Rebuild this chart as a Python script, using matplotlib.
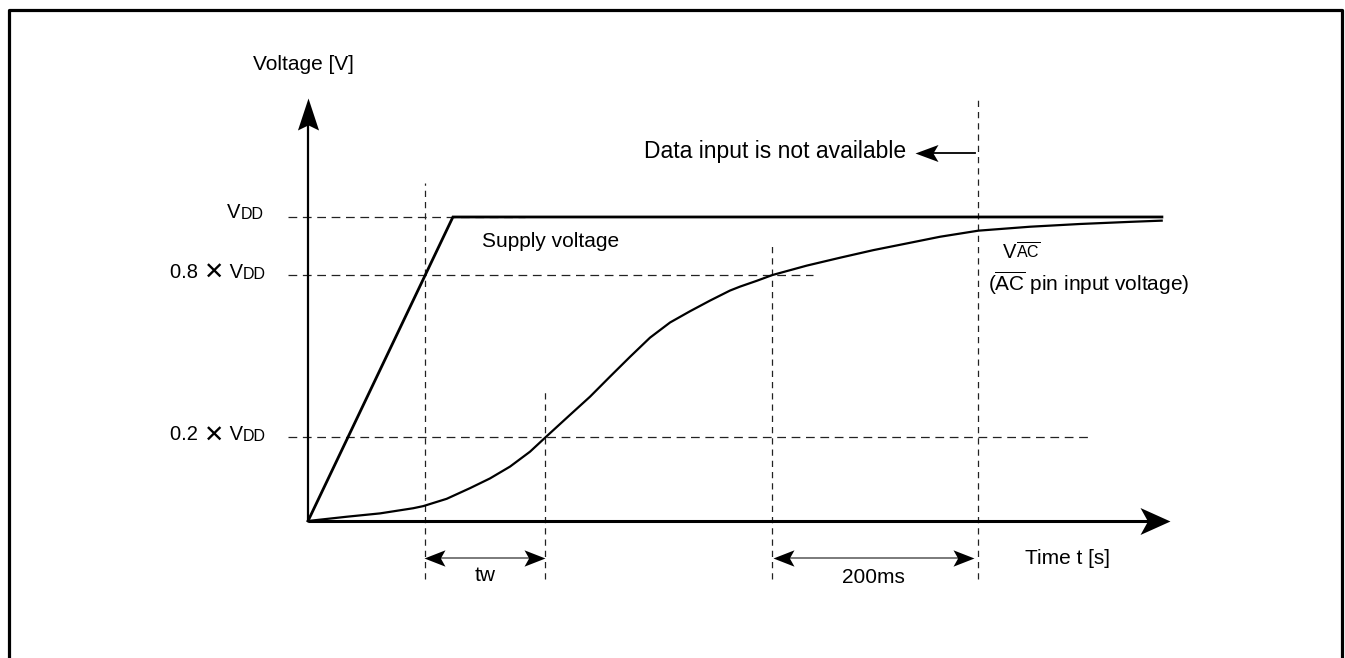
import matplotlib
matplotlib.use("Agg")
import matplotlib.pyplot as plt
from matplotlib.path import Path
from matplotlib.markers import MarkerStyle
from matplotlib.transforms import Affine2D

plt.rcParams['font.family'] = ['Liberation Sans', 'DejaVu Sans']
plt.rcParams['mathtext.fontset'] = 'custom'
plt.rcParams['mathtext.rm'] = 'Liberation Sans'
plt.rcParams['mathtext.it'] = 'Liberation Sans:italic'
plt.rcParams['mathtext.bf'] = 'Liberation Sans:bold'

# ---------------- data (time in ms, voltage as drawn fraction of VDD) ----------------
supply_t = [0, 140, 825]
supply_v = [0.0, 1.0, 1.0]

vac_t = [0, 37.4, 69.6, 101.7, 111.4, 134.0, 156.5, 175.8, 195.2, 214.5, 230.0,
         253.1, 272.5, 291.8, 311.1, 330.4, 349.8, 369.1, 388.4, 407.7, 417.4,
         433.5, 448.6, 481.8, 514.0, 546.2, 578.5, 610.6, 647.6, 697.6, 745.9,
         794.2, 824.8]
vac_v = [0.0, 0.014, 0.025, 0.042, 0.049, 0.073, 0.108, 0.140, 0.179, 0.228, 0.277,
         0.349, 0.409, 0.475, 0.540, 0.603, 0.653, 0.690, 0.725, 0.758, 0.771,
         0.790, 0.809, 0.840, 0.866, 0.891, 0.913, 0.935, 0.955, 0.968, 0.977,
         0.984, 0.988]

level_factor = ["", "0.8", "0.2"]
level_pos = [1.0, 0.809, 0.276]
level_guide_end = [210, 488, 756]

marker_t = [113, 229, 448, 647]
marker_top = [1.112, 0.424, 0.905, 1.395]

span_labels = ["tw", "200ms"]
span_start = [112, 449]
span_end = [229, 643]

t_axis_end = 833
v_axis_end = 1.391

# ---------------- figure ----------------
fig = plt.figure(figsize=(13.45, 6.58), dpi=100)
ax = fig.add_axes([0, 0, 1, 1])
ax.set_xlim(-297.6, 1001.9)
ax.set_ylim(-0.4507, 1.7138)
ax.axis('off')

# outer frame
xl, xr, yt = 8.5 / 1345, 1341.5 / 1345, 1 - 9.5 / 658
fig.add_artist(plt.Line2D([xl, xl, xr, xr], [0, yt, yt, 0], transform=fig.transFigure,
                          color='black', lw=2.3))


def stealth(w, notch=0.78):
    verts = [(0, 0), (-1, 0.5 * w), (-notch, 0), (-1, -0.5 * w), (0, 0)]
    codes = [Path.MOVETO, Path.LINETO, Path.LINETO, Path.LINETO, Path.CLOSEPOLY]
    return Path(verts, codes)


def head(x, y, angle, length_px, w, notch=0.78):
    ms = 2 * length_px * 72 / 100
    m = MarkerStyle(stealth(w, notch), transform=Affine2D().rotate_deg(angle))
    ax.plot([x], [y], marker=m, markersize=ms, color='black', markeredgewidth=0,
            linestyle='none', zorder=5)


dash_col = '#222222'
# horizontal guides
for pos, end in zip(level_pos, level_guide_end):
    ax.plot([-19.3, end], [pos, pos], color=dash_col, lw=0.9, dashes=(7, 4.5))

# vertical guides
for t, top in zip(marker_t, marker_top):
    ax.plot([t, t], [-0.19, top], color=dash_col, lw=0.9, dashes=(5, 4))

# axes with arrows
ax.plot([0, 0], [0, v_axis_end - 0.05], color='black', lw=1.6, solid_capstyle='butt')
head(0, v_axis_end, 90, 32, 0.66, 0.84)
ax.plot([0, t_axis_end - 12], [0, 0], color='black', lw=2.2, solid_capstyle='butt')
head(t_axis_end, 0, 0, 30, 0.9, 0.75)

# curves
ax.plot(supply_t, supply_v, color='black', lw=2.0, solid_joinstyle='miter')
ax.plot(vac_t, vac_v, color='black', lw=1.6, solid_joinstyle='round')

# span arrows
arrow_v = -0.122
for lab, s, e in zip(span_labels, span_start, span_end):
    ax.plot([s + 5, e - 5], [arrow_v, arrow_v], color='#7a7a7a', lw=1.4)
    head(s, arrow_v, 180, 21, 0.78)
    head(e, arrow_v, 0, 21, 0.78)

ax.text(171, -0.178, span_labels[0], fontsize=15, ha='center', va='center')
ax.text(546, -0.1875, span_labels[1], fontsize=15, ha='center', va='center')
ax.text(693, -0.122, "Time t [s]", fontsize=15, ha='left', va='center')

# data-input arrow
ax.plot([644.4, 595], [1.2105, 1.2105], color='black', lw=1.3)
head(586.5, 1.2105, 180, 23, 0.74)
ax.text(578, 1.214, "Data input is not available", fontsize=16.5, ha='right', va='center')

# axis title
ax.text(-4.8, 1.5, "Voltage [V]", fontsize=15, ha='center', va='center')

# level labels
level_x = [-78.3, -133.3, -133.3]
level_ty = [1.016, 0.816, 0.283]
for fac, lx, ly in zip(level_factor, level_x, level_ty):
    if fac:
        ta = ax.text(lx, ly, fac + " ", fontsize=14.5, ha='left', va='center')
        tb = ax.annotate("\u2715", xy=(1, 0), xycoords=ta, xytext=(0, -2),
                         textcoords='offset points', fontsize=17.5,
                         ha='left', va='bottom', family=['DejaVu Sans'])
        t1 = ax.annotate(" V", xy=(1, 0), xycoords=tb, xytext=(0, 2),
                         textcoords='offset points', fontsize=14.5,
                         ha='left', va='bottom')
    else:
        t1 = ax.text(lx, ly, "V", fontsize=14.5, ha='left', va='center')
    ax.annotate("DD", xy=(1, 0), xycoords=t1, fontsize=11.5, ha='left', va='bottom')

ax.text(168, 0.918, "Supply voltage", fontsize=15, ha='left', va='center')

t2 = ax.text(671.5, 0.882, "V", fontsize=14.5, ha='left', va='center')
ax.annotate(r"$\overline{\mathrm{AC}}$", xy=(1, 0), xycoords=t2, fontsize=11.5,
            ha='left', va='bottom')
ax.text(657, 0.783, r"($\overline{\mathrm{AC}}$ pin input voltage)", fontsize=15,
        ha='left', va='center')

fig.savefig("out.png", dpi=100)
